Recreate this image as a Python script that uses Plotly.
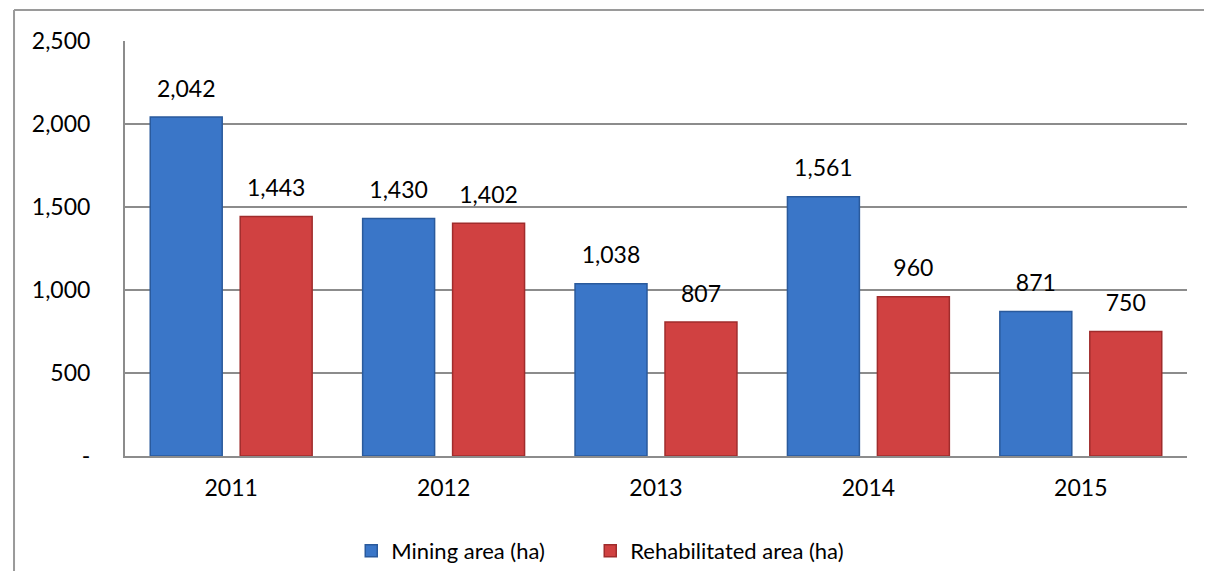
import plotly.graph_objects as go

years = ["2011", "2012", "2013", "2014", "2015"]
mining = [2042, 1430, 1038, 1561, 871]
rehab = [1443, 1402, 807, 960, 750]
ytick_vals = [0, 500, 1000, 1500, 2000, 2500]
ytick_text = ["-", "500", "1,000", "1,500", "2,000", "2,500"]

FONT = "Lato"
GRID = "#8c8c8c"
FS = 23

fig = go.Figure()
series = [
    ("Mining area (ha)", mining, "#3a76c8", "#2a5a9c", "m", 194),
    ("Rehabilitated area (ha)", rehab, "#d04141", "#a02c2c", "r", None),
]
for name, vals, col, edge, grp, lw in series:
    fig.add_trace(go.Bar(x=years, y=vals, name=name, offsetgroup=grp, legendwidth=lw,
        marker=dict(color=col, line=dict(color=edge, width=1.5))))
for name, vals, col, edge, grp, lw in series:
    # invisible marker pushes the value label up off the bar top
    fig.add_trace(go.Scatter(x=years, y=vals, mode="markers+text", offsetgroup=grp,
        marker=dict(size=22, color="rgba(0,0,0,0)"),
        text=[f"{v:,}" for v in vals], textposition="top center",
        textfont=dict(size=FS, color="#000000", family=FONT),
        showlegend=False, hoverinfo="skip", cliponaxis=False))

fig.update_layout(
    width=1196, height=563, barmode="group", bargap=0.153, bargroupgap=0.2,
    scattermode="group", scattergap=0.153,
    paper_bgcolor="white", plot_bgcolor="white",
    font=dict(family=FONT, size=FS, color="#000000"),
    margin=dict(l=117, r=17, t=33, b=115),
    legend=dict(orientation="h", xref="container", yref="container",
                x=0.287, xanchor="left", y=0.0355, yanchor="middle",
                font=dict(size=22), tracegroupgap=0),
    showlegend=True,
)
fig.update_xaxes(showline=True, linecolor=GRID, linewidth=2, ticks="",
                 ticklabelstandoff=10)
fig.update_yaxes(range=[0, 2500], tickvals=ytick_vals, ticktext=ytick_text,
                 showgrid=True, gridcolor=GRID, gridwidth=1.5,
                 showline=True, linecolor=GRID, linewidth=2, zeroline=False,
                 ticks="", ticklabelstandoff=28)

# outer chart frame (only left and top edges visible in the reference)
fig.add_shape(type="line", xref="paper", yref="paper", x0=-0.1045, x1=1.03, y0=1.0747, y1=1.0747,
              line=dict(color="#9a9a9a", width=2))
fig.add_shape(type="line", xref="paper", yref="paper", x0=-0.1045, x1=-0.1045, y0=1.0747, y1=-0.32,
              line=dict(color="#9a9a9a", width=2))

fig.write_html("out.html")
